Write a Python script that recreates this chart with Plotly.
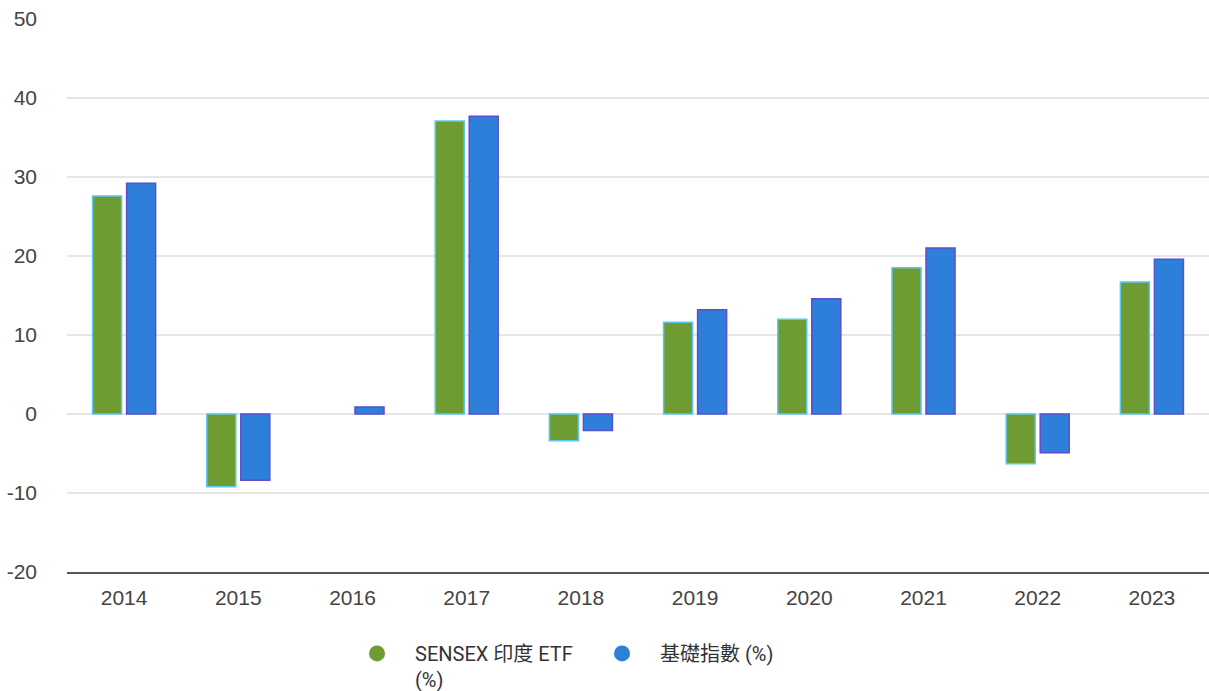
import plotly.graph_objects as go

years = ["2014", "2015", "2016", "2017", "2018", "2019", "2020", "2021", "2022", "2023"]
etf_values = [27.6, -9.2, None, 37.1, -3.4, 11.6, 12.0, 18.5, -6.3, 16.7]
index_values = [29.2, -8.4, 0.9, 37.7, -2.1, 13.2, 14.6, 21.0, -4.9, 19.6]
etf_name = "SENSEX 印度 ETF<br>(%)"
index_name = "基礎指數 (%)"
y_ticks = [-20, -10, 0, 10, 20, 30, 40, 50]
y_tick_text = ["-20", "-10", "0", "10", "20", "30", "40", "50"]

green = "#6e9b32"
blue = "#2e7fd9"

fig = go.Figure()
fig.add_trace(go.Bar(x=years, y=etf_values, name=etf_name, showlegend=False,
                     marker=dict(color=green, line=dict(color="#5cc8f0", width=1.5))))
fig.add_trace(go.Bar(x=years, y=index_values, name=index_name, showlegend=False,
                     marker=dict(color=blue, line=dict(color="#5a4fcf", width=1.5))))
# legend entries with circle symbols
fig.add_trace(go.Scatter(x=[None], y=[None], mode="markers", name=etf_name,
                         marker=dict(symbol="circle", size=20, color=green)))
fig.add_trace(go.Scatter(x=[None], y=[None], mode="markers", name=index_name,
                         marker=dict(symbol="circle", size=20, color=blue)))

fig.update_layout(
    width=1209, height=691,
    margin=dict(l=67, r=0, t=19, b=119, autoexpand=False),
    paper_bgcolor="white", plot_bgcolor="white",
    barmode="group", bargap=0.404, bargroupgap=0.147,
    font=dict(family="Liberation Sans, Arial, sans-serif", color="#444444"),
    xaxis=dict(type="category", showgrid=False, showline=True, linecolor="#555555", linewidth=2,
               tickfont=dict(size=21, color="#444444"), ticks="", ticklabelstandoff=6,
               automargin=False),
    yaxis=dict(range=[-20, 50], tickvals=y_ticks, ticktext=y_tick_text, showgrid=True,
               gridcolor="#e6e6e6", gridwidth=2, zeroline=False,
               tickfont=dict(size=21, color="#444444"), ticks="",
               ticklabelstandoff=29, automargin=False),
    legend=dict(orientation="h", x=0.2382, xanchor="left", y=-0.112, yanchor="top",
                font=dict(family="Roboto, Noto Sans CJK TC, sans-serif", size=20, color="#333333"),
                itemwidth=66, valign="top", itemclick=False, tracegroupgap=0,
                entrywidth=164, entrywidthmode="pixels"),
)

fig.write_html("out.html", config={"displayModeBar": False},
               post_script="document.body.style.margin='0';document.body.style.overflow='hidden';")
